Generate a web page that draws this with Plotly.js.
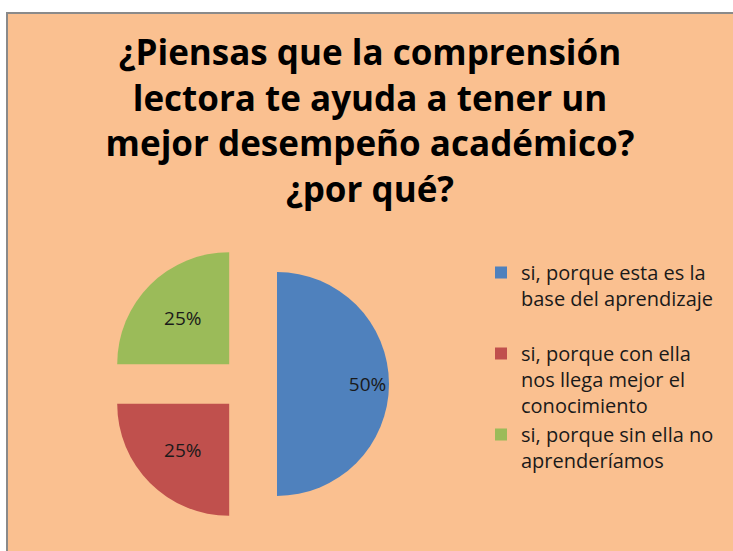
<!DOCTYPE html>
<html>
<head>
<meta charset="utf-8">
<script src="https://cdn.plot.ly/plotly-3.0.1.min.js"></script>
<style>
  html, body { margin: 0; padding: 0; background: #ffffff; width: 733px; height: 551px; overflow: hidden; }
  #chart { position: absolute; left: 6px; top: 12px; width: 725px; height: 537px;
           border-left: 2px solid #8a8a8a; border-top: 2px solid #8a8a8a; }
</style>
</head>
<body>
<div id="chart"></div>
<script>
const categories = [
  "si, porque esta es la<br>base del aprendizaje<br> ",
  "si, porque con ella<br>nos llega mejor el<br>conocimiento",
  "si, porque sin ella no<br>aprenderíamos"
];
const values = [50, 25, 25];
const colors = ["#4F81BD", "#C0504D", "#9BBB59"];
const titleText = "¿Piensas que la comprensión<br>lectora te ayuda a tener un<br>mejor desempeño académico?<br>¿por qué?";

const W = 725, H = 537;
const pad = "\u00A0".repeat(14);

const trace = {
  type: "pie",
  labels: categories,
  values: values,
  sort: false,
  direction: "clockwise",
  rotation: 0,
  pull: [0.25, 0.25, 0.25],
  marker: { colors: colors, line: { width: 0 } },
  texttemplate: [pad + "%{percent}", "%{percent}", "%{percent}"],
  textposition: "inside",
  insidetextorientation: "horizontal",
  textfont: { family: "Open Sans, sans-serif", size: 19, color: "#1a1a1a" },
  hoverinfo: "label+percent"
};

const layout = {
  width: W,
  height: H,
  paper_bgcolor: "#FAC090",
  plot_bgcolor: "#FAC090",
  margin: { l: 101, r: 344, t: 230, b: 27 },
  title: {
    text: titleText,
    font: { family: "Open Sans, sans-serif", size: 35, color: "#000000", weight: "bold" },
    xref: "container", yref: "container",
    x: 362 / W, xanchor: "center",
    y: 1 - 51 / H, yanchor: "top"
  },
  showlegend: true,
  legend: {
    xref: "container", yref: "container",
    x: 473 / W, xanchor: "left",
    y: 1 - 239 / H, yanchor: "top",
    valign: "top",
    font: { family: "Open Sans, sans-serif", size: 20, color: "#1a1a1a" },
    bgcolor: "rgba(0,0,0,0)",
    tracegroupgap: 0,
    itemclick: false
  }
};

Plotly.newPlot("chart", [trace], layout, { displayModeBar: false, staticPlot: true });
</script>
</body>
</html>
